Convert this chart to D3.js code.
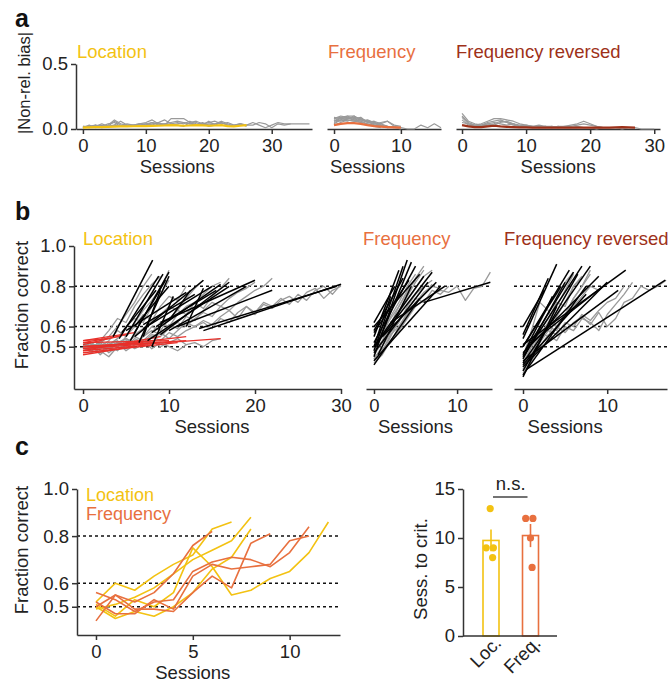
<!DOCTYPE html>
<html><head><meta charset="utf-8">
<script src="https://cdn.jsdelivr.net/npm/d3@7"></script>
<style>
body{margin:0;background:#fff}
text{font-family:"Liberation Sans",Arial,sans-serif}
.axis path,.axis line{stroke:#333;stroke-width:1.5}
.axis text{font-size:18.5px;fill:#222;font-family:"Liberation Sans",Arial,sans-serif}
</style></head><body>
<svg id="fig" width="671" height="682"></svg>
<script>
/* learning figure: a = bias per session, b = fraction correct + fits, c = example curves + sessions to criterion */

// ---- panel a: |non-rel. bias| per session ----
const biasLocTraces = [
  [0.01,0.02,0.02,0.03,0.02,0.06,0.03,0.02,0.03,0.04,0.03,0.05,0.04,0.04,0.03,0.04,0.05,0.04,0.03,0.05,0.03,0.04,0.05,0.03,0.03,0.04,0.03,0.03,0.05,0.04,0.01,0.04,0.03,0.04,0.04,0.04,0.04],
  [0.02,0.01,0.03,0.02,0.03,0.07,0.04,0.03,0.02,0.04,0.05,0.07,0.04,0.03,0.08,0.08,0.08,0.05,0.06,0.04,0.05,0.06,0.04,0.05,0.03,0.04,0.02],
  [0.01,0.03,0.01,0.02,0.04,0.05,0.02,0.03,0.03,0.02,0.04,0.03,0.05,0.07,0.04,0.05,0.04,0.06,0.04,0.03,0.06,0.03,0.05,0.03],
  [0.02,0.02,0.03,0.01,0.02,0.03,0.02,0.04,0.03,0.04,0.04,0.05,0.03,0.04,0.05,0.06,0.05,0.04,0.05,0.03,0.04,0.04,0.06,0.04,0.02,0.04,0.03,0.05,0.03,0.01,0.03,0.05,0.04,0.04],
  [0.01,0.02,0.02,0.04,0.02,0.03,0.06,0.03,0.02,0.03,0.03,0.04,0.05,0.03,0.04,0.03,0.02,0.05,0.03,0.04,0.02,0.03]
];
const biasLocMean = [0.01,0.012,0.014,0.015,0.016,0.018,0.02,0.02,0.021,0.022,0.022,0.024,0.025,0.027,0.03,0.028,0.025,0.027,0.03,0.028,0.025,0.027,0.03,0.022,0.02,0.025,0.03];

const biasFreqTraces = [
  [0.08,0.09,0.10,0.10,0.07,0.06,0.05,0.04,0.02,0.01,0.01,0.00,0.00,0.03,0.01,0.04,0.01],
  [0.06,0.08,0.09,0.07,0.05,0.06,0.03,0.02,0.01,0.01,0.00],
  [0.04,0.07,0.10,0.08,0.09,0.05,0.04,0.03,0.02,0.01],
  [0.07,0.06,0.08,0.09,0.08,0.05,0.06,0.04,0.06,0.02,0.01],
  [0.09,0.08,0.07,0.06,0.08,0.06,0.05,0.03,0.02],
  [0.05,0.07,0.06,0.08,0.06,0.07,0.05,0.03,0.01,0.02],
  [0.08,0.10,0.09,0.07,0.06,0.04,0.03,0.02],
  [0.03,0.05,0.07,0.06,0.05,0.04,0.02,0.01],
  [0.06,0.09,0.08,0.10,0.07,0.06,0.04,0.05,0.06,0.03,0.02]
];
const biasFreqMean = [0.03,0.04,0.045,0.045,0.04,0.03,0.022,0.018,0.015,0.012,0.01];

const biasRevTraces = [
  [0.12,0.06,0.04,0.03,0.05,0.06,0.07,0.05,0.04,0.03,0.02,0.02,0.01,0.02,0.01,0.02,0.02,0.03,0.04,0.06,0.04,0.02,0.01,0.01,0.01,0.00,0.01,0.01,0.00,0.00,0.00],
  [0.09,0.04,0.03,0.04,0.06,0.08,0.08,0.07,0.06,0.04,0.03,0.02,0.03,0.02,0.02,0.01,0.02,0.02,0.03,0.04,0.03,0.02,0.01],
  [0.07,0.03,0.02,0.03,0.04,0.05,0.04,0.03,0.04,0.02,0.02,0.01,0.02,0.01,0.01,0.02,0.01,0.01,0.02,0.01,0.01,0.00,0.01,0.01,0.01,0.01,0.01,0.01],
  [0.05,0.04,0.02,0.02,0.03,0.04,0.06,0.05,0.03,0.02,0.03,0.02,0.01,0.01,0.02,0.01,0.01,0.01,0.01],
  [0.10,0.05,0.03,0.02,0.04,0.03,0.05,0.06,0.04,0.02,0.02,0.01,0.01,0.02,0.01,0.01]
];
const biasRevMean = [0.03,0.02,0.015,0.015,0.02,0.025,0.02,0.017,0.015,0.012,0.012,0.01,0.01,0.01,0.01,0.01,0.01,0.01,0.01,0.01,0.01,0.01,0.01,0.01,0.012,0.015,0.012,0.01];

// ---- panel b: fraction correct per session; fits = [startSession, startValue, endSession, endValue] ----
const fcLocTraces = [
  [0.50,0.48,0.52,0.55,0.60,0.66,0.72,0.80,0.86],
  [0.49,0.51,0.50,0.53,0.58,0.55,0.62,0.68,0.73,0.79,0.88],
  [0.52,0.50,0.47,0.51,0.54,0.60,0.64,0.62,0.70,0.76,0.83],
  [0.50,0.52,0.49,0.51,0.53,0.50,0.56,0.59,0.63,0.66,0.70,0.68,0.74,0.79,0.83],
  [0.48,0.50,0.51,0.49,0.52,0.54,0.51,0.55,0.60,0.58,0.64,0.68,0.66,0.72,0.76,0.80,0.82],
  [0.51,0.49,0.53,0.50,0.48,0.52,0.55,0.53,0.57,0.62,0.60,0.66,0.70,0.72,0.69,0.75,0.79,0.84],
  [0.50,0.47,0.49,0.52,0.50,0.53,0.51,0.55,0.58,0.56,0.61,0.59,0.65,0.63,0.68,0.72,0.70,0.74,0.77,0.79,0.82],
  [0.49,0.51,0.50,0.48,0.52,0.50,0.54,0.52,0.56,0.55,0.59,0.62,0.60,0.64,0.67,0.65,0.70,0.68,0.72,0.75,0.78,0.80,0.84],
  [0.50,0.48,0.51,0.50,0.52,0.49,0.53,0.51,0.55,0.53,0.57,0.55,0.58,0.60,0.62,0.59,0.64,0.62,0.67,0.70,0.66,0.71,0.69,0.73,0.75,0.72,0.77,0.79,0.74,0.78,0.80],
  [0.51,0.50,0.52,0.49,0.51,0.54,0.52,0.50,0.55,0.57,0.54,0.58,0.62,0.60,0.63,0.61,0.65,0.68,0.64,0.70,0.67,0.72,0.70,0.74,0.71,0.76,0.73,0.78,0.80,0.76,0.81],
  [0.50,0.52,0.48,0.45,0.50,0.55,0.60,0.66,0.63,0.70,0.75,0.73,0.80],
  [0.51,0.49,0.53,0.58,0.64,0.62,0.70,0.76,0.81,0.85],
  [0.50,0.48,0.51,0.47,0.50,0.52,0.49,0.51,0.53,0.50,0.52,0.54,0.51,0.52,0.50,0.53,0.54],
  [0.49,0.51,0.46,0.50,0.52,0.48,0.51,0.53,0.49,0.52,0.50,0.48,0.51]
];
const fcLocFits = [
  [3.5,0.55,8.1,0.93],[4.2,0.54,8.8,0.85],[5.0,0.55,9.3,0.86],[5.5,0.53,10.0,0.87],
  [6.0,0.57,9.6,0.83],[6.5,0.52,10.0,0.85],[7.0,0.55,9.0,0.78],[4.5,0.57,8.5,0.78],
  [6.0,0.60,10.0,0.80],[8.0,0.50,10.5,0.75],[5.0,0.58,12.0,0.77],[6.0,0.55,14.0,0.83],
  [7.0,0.59,15.0,0.80],[8.0,0.57,16.0,0.81],[7.5,0.53,17.0,0.80],[8.5,0.60,15.5,0.78],
  [9.0,0.56,17.0,0.82],[10.0,0.58,19.0,0.80],[9.0,0.62,20.0,0.83],[11.0,0.60,22.0,0.78],
  [12.0,0.60,14.0,0.79],[13.5,0.59,29.5,0.80],[14.0,0.58,30.0,0.81],[10.0,0.63,12.5,0.78],
  [7.0,0.61,13.0,0.76]
];
const fcLocFlat = [
  [0,0.49,16,0.54],[0,0.50,12,0.53],[0,0.47,11,0.52],[0,0.52,10,0.53],[0,0.48,9,0.55],
  [0,0.53,6,0.57],[0,0.50,7,0.52],[0,0.51,5,0.56],[0,0.48,8,0.51],[0,0.52,4,0.55],
  [0,0.49,12,0.55],[0,0.46,6,0.50],[0,0.53,3,0.54],[0,0.50,9,0.52]
];

const fcFreqTraces = [
  [0.46,0.52,0.60,0.68,0.75,0.82,0.88],
  [0.44,0.50,0.57,0.62,0.70,0.76,0.80,0.83],
  [0.48,0.55,0.65,0.72,0.80,0.86],
  [0.43,0.48,0.56,0.60,0.66,0.72,0.77,0.80,0.79],
  [0.50,0.58,0.64,0.70,0.77,0.84,0.90],
  [0.45,0.47,0.55,0.63,0.68,0.74,0.72,0.78,0.76,0.80],
  [0.42,0.46,0.53,0.58,0.64,0.70,0.73,0.76,0.78,0.77,0.80,0.73,0.79,0.80,0.87],
  [0.47,0.53,0.61,0.70,0.78,0.83],
  [0.44,0.49,0.52,0.60,0.67,0.71,0.76,0.81],
  [0.49,0.56,0.62,0.67,0.73,0.79,0.85,0.88]
];
const fcFreqFits = [
  [0,0.45,4.0,0.93],[0,0.48,3.5,0.90],[0.3,0.50,4.5,0.92],[0,0.52,5.0,0.90],
  [0,0.55,3.0,0.88],[0,0.62,2.5,0.80],[0,0.60,5.5,0.86],[0,0.57,4.2,0.83],
  [0.5,0.53,6.0,0.85],[0,0.50,7.0,0.87],[0,0.47,6.5,0.82],[1.0,0.55,7.5,0.82],
  [0,0.43,8.0,0.80],[0,0.41,5.5,0.74],[2.0,0.62,8.5,0.80],[6.0,0.72,14.0,0.82],
  [0,0.58,3.5,0.84],[0.5,0.46,4.5,0.80],[0,0.50,2.0,0.75]
];

const fcRevTraces = [
  [0.38,0.46,0.55,0.62,0.70,0.78,0.86],
  [0.42,0.50,0.58,0.64,0.72,0.70,0.80,0.84],
  [0.36,0.44,0.52,0.60,0.58,0.66,0.74,0.80,0.86],
  [0.40,0.48,0.56,0.62,0.60,0.66,0.70,0.75,0.80,0.78,0.82],
  [0.45,0.58,0.72,0.68,0.60,0.66,0.74,0.80,0.88],
  [0.39,0.47,0.52,0.58,0.56,0.62,0.60,0.66,0.63,0.68,0.72,0.74,0.80],
  [0.41,0.46,0.50,0.55,0.60,0.57,0.62,0.65,0.61,0.67,0.60,0.64,0.72,0.74,0.80,0.78,0.80,0.83],
  [0.37,0.43,0.50,0.56,0.53,0.60,0.58,0.64,0.62,0.58,0.66,0.71,0.76,0.82],
  [0.44,0.55,0.62,0.70,0.76,0.82,0.87],
  [0.40,0.50,0.57,0.55,0.65,0.72,0.80,0.85]
];
const fcRevFits = [
  [0,0.54,4.0,0.91],[0,0.45,7.0,0.90],[0,0.42,8.0,0.90],[0.3,0.48,6.0,0.87],
  [0,0.50,5.5,0.88],[0,0.38,6.5,0.86],[0,0.44,5.0,0.82],[0,0.56,3.0,0.84],
  [0,0.47,9.0,0.85],[0,0.40,10.0,0.82],[0,0.51,12.2,0.88],[0,0.43,11.3,0.78],
  [0,0.36,7.5,0.80],[0.5,0.39,16.9,0.83],[0,0.50,4.5,0.80],[0,0.60,2.5,0.78],
  [1.0,0.52,9.5,0.80],[0,0.46,3.5,0.75],[0,0.41,7.5,0.76],[0,0.35,4.0,0.70]
];

// ---- panel c: example animals + sessions to criterion ----
const cLocTraces = [
  [0.52,0.60,0.57,0.63,0.68,0.72,0.83,0.86],
  [0.49,0.51,0.54,0.58,0.64,0.70,0.74,0.78,0.88],
  [0.50,0.45,0.48,0.46,0.50,0.56,0.66,0.71,0.83],
  [0.51,0.46,0.53,0.50,0.56,0.75,0.67,0.55,0.57,0.62,0.65,0.73,0.86]
];
const cFreqTraces = [
  [0.44,0.55,0.52,0.56,0.64,0.76,0.82],
  [0.56,0.53,0.48,0.52,0.53,0.65,0.69,0.71,0.70,0.67,0.73,0.84],
  [0.52,0.47,0.47,0.53,0.49,0.63,0.68,0.66,0.67,0.68,0.78,0.80],
  [0.50,0.55,0.49,0.49,0.48,0.56,0.63,0.58,0.77,0.81]
];
const critCats = ["Loc.", "Freq."];
const critVals = [[13, 9, 9, 8], [12, 12, 10, 7]];
const critJitter = [[-0.05, -0.3, 0.15, 0.1], [-0.3, 0.15, 0.0, 0.1]];

const sessTicksA = [[0, 10, 20, 30], [0, 10], [0, 10, 20, 30]];
const sessTicksB = [[0, 10, 20, 30], [0, 10], [0, 10]];
const sessTicksC = [0, 5, 10];
const biasTicks = [0, 0.5];
const fcTicks = [0.5, 0.6, 0.8, 1.0];
const refLines = [0.5, 0.6, 0.8];
const critTicks = [0, 5, 10, 15];
const taskNames = ["Location", "Frequency", "Frequency reversed"];

const C = { loc: "#f3c212", freq: "#e8703f", rev: "#9e3119", fit: "#e8302a", gray: "#9a9a9a", ink: "#222" };
const taskCol = [C.loc, C.freq, C.rev];

const svg = d3.select("#fig");

function frame(o) {
  const g = svg.append("g");
  const x = d3.scaleLinear().domain(o.xd).range(o.xr);
  const y = d3.scaleLinear().domain(o.yd).range(o.yr);
  if (o.refs) {
    g.append("g").selectAll("line").data(o.refs).join("line")
      .attr("x1", o.xr[0]).attr("x2", o.xr[1])
      .attr("y1", d => y(d)).attr("y2", d => y(d))
      .attr("stroke", "#111").attr("stroke-width", 1.5).attr("stroke-dasharray", "3,3");
  }
  g.append("g").attr("class", "axis").attr("transform", `translate(0,${o.yr[0]})`)
    .call(d3.axisBottom(x).tickValues(o.xt).tickSize(5).tickPadding(5).tickSizeOuter(0));
  if (o.yt) {
    g.append("g").attr("class", "axis").attr("transform", `translate(${o.xr[0]},0)`)
      .call(d3.axisLeft(y).tickValues(o.yt).tickFormat(o.yf).tickSize(5).tickPadding(3).tickSizeOuter(0));
  }
  if (o.xl) g.append("text").attr("x", (x(o.xt[0]) + x(o.xt[o.xt.length - 1])) / 2)
    .attr("y", o.yr[0] + 44).attr("text-anchor", "middle").attr("font-size", 18.5).attr("fill", C.ink).text("Sessions");
  if (o.title) g.append("text").attr("x", o.tx).attr("y", o.ty).attr("font-size", 18.5)
    .attr("fill", o.tc).text(o.title);
  if (o.yl) g.append("text").attr("transform", `translate(${o.ylx},${o.yly}) rotate(-90)`)
    .attr("text-anchor", "middle").attr("font-size", o.yls || 18.5).attr("fill", C.ink).text(o.yl);
  g.x = x; g.y = y;
  return g;
}

function traces(g, rows, color, w) {
  const line = d3.line().x((d, i) => g.x(i)).y(d => g.y(d));
  g.append("g").selectAll("path").data(rows).join("path")
    .attr("d", line).attr("fill", "none").attr("stroke", color).attr("stroke-width", w)
    .attr("stroke-linejoin", "round");
}
function fits(g, rows, color, w) {
  g.append("g").selectAll("line").data(rows).join("line")
    .attr("x1", d => g.x(d[0])).attr("y1", d => g.y(d[1]))
    .attr("x2", d => g.x(d[2])).attr("y2", d => g.y(d[3]))
    .attr("stroke", color).attr("stroke-width", w);
}

function panelLabel(t, x, y) {
  svg.append("text").attr("x", x).attr("y", y).attr("font-size", 25).attr("font-weight", "bold")
    .attr("fill", "#111").text(t);
}

// ---------- a ----------
panelLabel("a", 15, 27);
const aBoxes = [
  { xd: [-1.1, 36.4], xr: [76, 312], tx: 77 },
  { xd: [-1.05, 16], xr: [327, 441], tx: 328 },
  { xd: [-0.94, 30.9], xr: [456, 660], tx: 456 }
];
const aTr = [biasLocTraces, biasFreqTraces, biasRevTraces];
const aMean = [biasLocMean, biasFreqMean, biasRevMean];
aBoxes.forEach((b, k) => {
  const g = frame({
    xd: b.xd, xr: b.xr, yd: [0, 0.5], yr: [129, 64], xt: sessTicksA[k],
    yt: k === 0 ? biasTicks : null, yf: d3.format(".1f"),
    xl: true, title: taskNames[k], tx: b.tx, ty: 58, tc: taskCol[k],
    yl: k === 0 ? "|Non-rel. bias|" : null, ylx: 30, yly: 83, yls: 16.5
  });
  traces(g, aTr[k], C.gray, 1.2);
  traces(g, [aMean[k]], taskCol[k], 2.2);
});

// ---------- b ----------
panelLabel("b", 15, 220);
const bBoxes = [
  { xd: [-1.05, 30], xr: [74, 341], tx: 83 },
  { xd: [-0.96, 14.2], xr: [366, 492], tx: 363 },
  { xd: [-1.07, 17.1], xr: [514, 667], tx: 504 }
];
const bTr = [fcLocTraces, fcFreqTraces, fcRevTraces];
const bFits = [fcLocFits, fcFreqFits, fcRevFits];
bBoxes.forEach((b, k) => {
  const g = frame({
    xd: b.xd, xr: b.xr, yd: [0.29, 1.0], yr: [389, 246], xt: sessTicksB[k],
    yt: k === 0 ? fcTicks : null, yf: d3.format(".1f"), refs: refLines,
    xl: true, title: taskNames[k], tx: b.tx, ty: 245, tc: taskCol[k],
    yl: k === 0 ? "Fraction correct" : null, ylx: 28, yly: 305
  });
  traces(g, bTr[k], C.gray, 1.3);
  if (k === 0) fits(g, fcLocFlat, C.fit, 1.3);
  fits(g, bFits[k], "#000", 1.5);
});

// ---------- c ----------
panelLabel("c", 15, 455);
const gc = frame({
  xd: [-0.98, 12.6], xr: [77, 340], yd: [0.38, 1.0], yr: [635, 489], xt: sessTicksC,
  yt: fcTicks, yf: d3.format(".1f"), refs: refLines, xl: true,
  yl: "Fraction correct", ylx: 28, yly: 550
});
traces(gc, cLocTraces, C.loc, 1.6);
traces(gc, cFreqTraces, C.freq, 1.6);
gc.append("text").attr("x", 86).attr("y", 501).attr("font-size", 18).attr("fill", C.loc).text(taskNames[0]);
gc.append("text").attr("x", 86).attr("y", 520).attr("font-size", 18).attr("fill", C.freq).text(taskNames[1]);

// sessions to criterion
const xb = d3.scaleBand().domain(critCats).range([483, 538.5]).paddingInner(0.595).paddingOuter(0);
const yb = d3.scaleLinear().domain([0, 15]).range([636, 489]);
const gb = svg.append("g");
const barCol = [C.loc, C.freq];
const stats = critVals.map(v => {
  const m = d3.mean(v), se = d3.deviation(v) / Math.sqrt(v.length);
  return { m, se };
});
gb.append("g").attr("class", "axis").attr("transform", `translate(${463},0)`)
  .call(d3.axisLeft(yb).tickValues(critTicks).tickSize(5).tickPadding(3).tickSizeOuter(0));
gb.selectAll("rect.bar").data(critCats).join("rect").attr("class", "bar")
  .attr("x", d => xb(d)).attr("width", xb.bandwidth())
  .attr("y", (d, i) => yb(stats[i].m)).attr("height", (d, i) => yb(0) - yb(stats[i].m))
  .attr("fill", "#fff").attr("stroke", (d, i) => barCol[i]).attr("stroke-width", 1.6);
gb.selectAll("line.err").data(critCats).join("line").attr("class", "err")
  .attr("x1", d => xb(d) + xb.bandwidth() / 2).attr("x2", d => xb(d) + xb.bandwidth() / 2)
  .attr("y1", (d, i) => yb(stats[i].m - stats[i].se)).attr("y2", (d, i) => yb(stats[i].m + stats[i].se))
  .attr("stroke", (d, i) => barCol[i]).attr("stroke-width", 1.6);
critCats.forEach((c, i) => {
  gb.append("g").selectAll("circle").data(critVals[i]).join("circle")
    .attr("cx", (d, j) => xb(c) + xb.bandwidth() * (0.5 + critJitter[i][j]))
    .attr("cy", d => yb(d)).attr("r", 3.6).attr("fill", barCol[i]);
});
const xAx = gb.append("g").attr("class", "axis").attr("transform", `translate(0,${636})`)
  .call(d3.axisBottom(d3.scalePoint().domain(critCats).range([xb(critCats[0]) + xb.bandwidth() / 2, xb(critCats[1]) + xb.bandwidth() / 2]))
    .tickSize(0).tickSizeOuter(0));
xAx.select(".domain").attr("d", `M463,0H557`);
xAx.selectAll("text").attr("text-anchor", "end").attr("dy", null).attr("y", 0)
  .attr("transform", "translate(11,8) rotate(-45)");
gb.append("text").attr("transform", `translate(427,569) rotate(-90)`).attr("text-anchor", "middle")
  .attr("font-size", 18.5).attr("fill", C.ink).text("Sess. to crit.");
const cx0 = xb(critCats[0]) + xb.bandwidth() / 2, cx1 = xb(critCats[1]) + xb.bandwidth() / 2;
gb.append("line").attr("x1", cx0 + 2).attr("x2", cx1 - 3).attr("y1", 497).attr("y2", 497)
  .attr("stroke", "#444").attr("stroke-width", 1.6);
gb.append("text").attr("x", (cx0 + cx1) / 2).attr("y", 490).attr("text-anchor", "middle")
  .attr("font-size", 18.5).attr("fill", C.ink).text("n.s.");
</script>
</body></html>
